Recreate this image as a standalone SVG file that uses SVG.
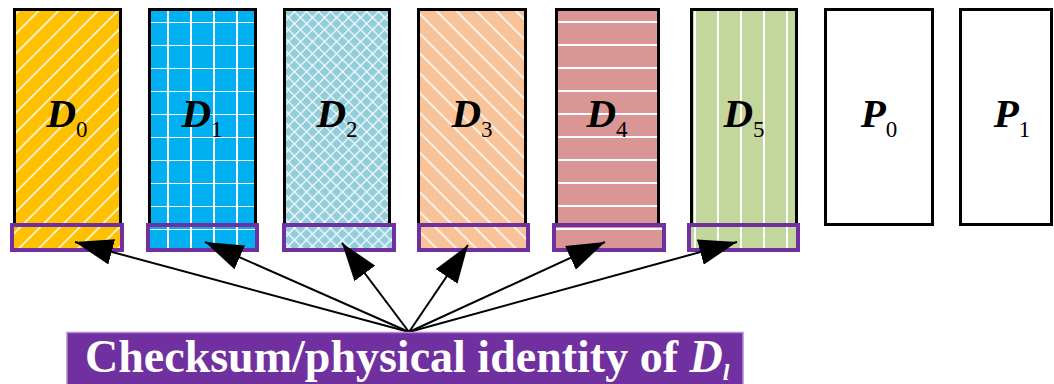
<svg xmlns="http://www.w3.org/2000/svg" width="1054" height="384" viewBox="0 0 1054 384">
  <style>
    .box { stroke: #000; stroke-width: 3; }
    .chk { stroke: #7030A0; stroke-width: 4; }
    .lbl { font-family: "Liberation Serif", "Times New Roman", serif; font-style: italic; font-weight: bold; font-size: 41px; fill: #000; }
    .sub { font-size: 23px; font-style: normal; font-weight: normal; }
    .conn { stroke: #000; stroke-width: 2; fill: none; marker-end: url(#ah); }
    .cap { font-family: "Liberation Serif", "Times New Roman", serif; font-weight: bold; font-size: 46px; fill: #fff; }
  </style>
  <defs>
    <marker id="ah" viewBox="0 0 38 26" refX="38" refY="13" markerWidth="38" markerHeight="26" markerUnits="userSpaceOnUse" orient="auto">
      <path d="M0,0 L38,13 L0,26 z" fill="#000"/>
    </marker>
    <pattern id="p0" width="14" height="14" patternUnits="userSpaceOnUse" patternTransform="rotate(45)">
      <rect width="14" height="14" fill="#FFC000"/>
      <line x1="7" y1="0" x2="7" y2="14" stroke="#fff" stroke-width="1.5"/>
    </pattern>
    <pattern id="p1" x="148" y="-1" width="23" height="23" patternUnits="userSpaceOnUse">
      <rect width="23" height="23" fill="#00B0F0"/>
      <line x1="20" y1="0" x2="20" y2="23" stroke="#fff" stroke-width="2"/>
      <line x1="0" y1="0" x2="23" y2="0" stroke="#fff" stroke-width="2"/>
    </pattern>
    <pattern id="p2" width="8.5" height="8.5" patternUnits="userSpaceOnUse" patternTransform="rotate(45)">
      <rect width="8.5" height="8.5" fill="#92CDDC"/>
      <line x1="4" y1="0" x2="4" y2="8.5" stroke="#fff" stroke-width="1.2"/>
      <line x1="0" y1="4" x2="8.5" y2="4" stroke="#fff" stroke-width="1.2"/>
    </pattern>
    <pattern id="p3" width="14" height="14" patternUnits="userSpaceOnUse" patternTransform="rotate(-45)">
      <rect width="14" height="14" fill="#F9C39A"/>
      <line x1="7" y1="0" x2="7" y2="14" stroke="#fff" stroke-width="1.5"/>
    </pattern>
    <pattern id="p4" x="0" y="0" width="23" height="23" patternUnits="userSpaceOnUse">
      <rect width="23" height="23" fill="#D99694"/>
      <line x1="0" y1="22" x2="23" y2="22" stroke="#fff" stroke-width="2"/>
    </pattern>
    <pattern id="p5" x="0" y="0" width="23" height="23" patternUnits="userSpaceOnUse">
      <rect width="23" height="23" fill="#C3D69B"/>
      <line x1="5" y1="0" x2="5" y2="23" stroke="#fff" stroke-width="2"/>
    </pattern>
  </defs>

  <g id="D0">
    <rect class="box" x="14.5" y="9.5" width="106" height="215" fill="url(#p0)"/>
    <rect class="chk" x="12" y="225" width="110" height="25" fill="url(#p0)"/>
    <text class="lbl" x="67" y="127" text-anchor="middle">D<tspan class="sub" dy="10">0</tspan></text>
  </g>
  <g id="D1">
    <rect class="box" x="149.5" y="9.5" width="106" height="215" fill="url(#p1)"/>
    <rect class="chk" x="148" y="225" width="109" height="25" fill="url(#p1)"/>
    <text class="lbl" x="202" y="127" text-anchor="middle">D<tspan class="sub" dy="10">1</tspan></text>
  </g>
  <g id="D2">
    <rect class="box" x="284.5" y="9.5" width="105" height="215" fill="url(#p2)"/>
    <rect class="chk" x="284" y="225" width="110" height="25" fill="url(#p2)"/>
    <text class="lbl" x="337" y="127" text-anchor="middle">D<tspan class="sub" dy="10">2</tspan></text>
  </g>
  <g id="D3">
    <rect class="box" x="418.5" y="9.5" width="107" height="215" fill="url(#p3)"/>
    <rect class="chk" x="419" y="225" width="109" height="25" fill="url(#p3)"/>
    <text class="lbl" x="472" y="127" text-anchor="middle">D<tspan class="sub" dy="10">3</tspan></text>
  </g>
  <g id="D4">
    <rect class="box" x="556.5" y="9.5" width="102" height="215" fill="url(#p4)"/>
    <rect class="chk" x="554" y="225" width="110" height="25" fill="url(#p4)"/>
    <text class="lbl" x="607" y="127" text-anchor="middle">D<tspan class="sub" dy="10">4</tspan></text>
  </g>
  <g id="D5">
    <rect class="box" x="691.5" y="9.5" width="105" height="215" fill="url(#p5)"/>
    <rect class="chk" x="689" y="225" width="109" height="25" fill="url(#p5)"/>
    <text class="lbl" x="744" y="127" text-anchor="middle">D<tspan class="sub" dy="10">5</tspan></text>
  </g>
  <g id="P0">
    <rect class="box" x="825.5" y="9.5" width="107" height="215" fill="#fff"/>
    <text class="lbl" x="879" y="127" text-anchor="middle">P<tspan class="sub" dy="10">0</tspan></text>
  </g>
  <g id="P1">
    <rect class="box" x="960.5" y="9.5" width="91" height="215" fill="#fff"/>
    <text class="lbl" x="1012" y="127" text-anchor="middle">P<tspan class="sub" dy="10">1</tspan></text>
  </g>

  <g id="connectors">
    <line class="conn" x1="409" y1="332" x2="75" y2="242"/>
    <line class="conn" x1="409" y1="332" x2="205" y2="242"/>
    <line class="conn" x1="409" y1="332" x2="342" y2="243"/>
    <line class="conn" x1="409" y1="332" x2="468" y2="245"/>
    <line class="conn" x1="409" y1="332" x2="605" y2="242"/>
    <line class="conn" x1="409" y1="332" x2="737" y2="242"/>
  </g>

  <g id="label">
    <rect x="67" y="332.5" width="676" height="60" fill="#7030A0" stroke="#B48AD0" stroke-width="1.5"/>
    <text class="cap" x="85" y="372">Checksum/physical identity of <tspan font-style="italic">D</tspan><tspan font-style="italic" font-size="24" dy="8">l</tspan></text>
  </g>
</svg>
